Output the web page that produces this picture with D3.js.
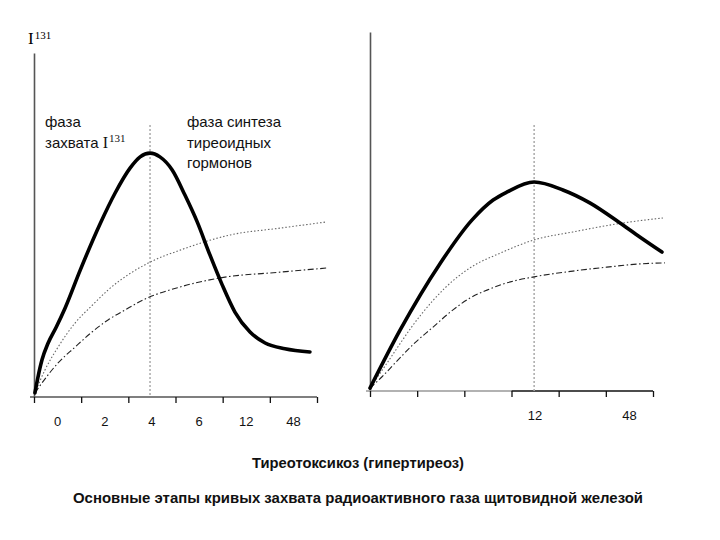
<!DOCTYPE html>
<html>
<head>
<meta charset="utf-8">
<script src="https://cdn.jsdelivr.net/npm/d3@7"></script>
<style>
  html, body { margin: 0; padding: 0; background: #fff; }
  svg { display: block; }
</style>
</head>
<body>
<svg id="chart" width="720" height="540"></svg>
<script>
// ---------- data (x in band units 0..6, y in relative uptake 0..100) ----------
const tickLabelsLeft  = ["0", "2", "4", "6", "12", "48"];
const tickLabelsRight = ["", "", "", "12", "", "48"];

const leftUptake = [[0.02,1.2],[0.08,5.5],[0.17,10.8],[0.30,15.7],[0.47,20.3],[0.66,25.9],[0.98,36.9],[1.40,50.3],[1.72,59.3],[2.04,66.6],[2.25,69.8],[2.46,70.9],[2.67,69.8],[2.93,66.0],[3.20,58.7],[3.46,50.9],[3.73,41.3],[3.99,32.6],[4.26,24.7],[4.58,18.9],[4.90,15.7],[5.32,14.0],[5.85,13.1]];
const leftDotted = [[0.02,1.2],[0.23,7.8],[0.51,14.5],[0.87,21.5],[1.23,26.6],[1.57,31.1],[2.46,39.2],[3.10,42.7],[4.16,47.1],[5.22,49.1],[6.21,50.9]];
const leftDashDot = [[0.02,1.2],[0.17,4.1],[0.51,9.9],[0.87,14.5],[1.23,18.9],[1.57,22.4],[1.93,25.3],[2.31,28.2],[3.10,32.0],[3.94,34.6],[5.22,36.3],[6.21,37.5]];

const rightUptake = [[0,0.8],[0.64,17.0],[1.48,35.4],[2.16,47.6],[2.61,53.2],[2.90,55.4],[3.48,58.2],[4.09,56.0],[4.66,52.4],[5.30,46.8],[5.72,42.9],[6.19,38.7]];
const rightDotted = [[0,0.8],[0.32,7.0],[1.06,20.9],[1.59,28.7],[2.12,34.3],[2.76,38.4],[3.48,42.1],[4.30,44.3],[5.36,46.8],[6.21,48.2]];
const rightDashDot = [[0,0.8],[0.25,3.9],[0.59,8.6],[0.95,13.4],[1.31,17.5],[1.76,22.6],[2.12,25.9],[2.48,28.1],[2.82,29.8],[3.48,31.8],[4.30,33.4],[5.02,34.5],[5.72,35.4],[6.25,35.7]];

const leftPhase = [2.46, 79.1];   // divider x, top
const rightPhase = [3.48, 74.1];

const title1 = "Тиреотоксикоз (гипертиреоз)";
const title2 = "Основные этапы кривых захвата радиоактивного газа щитовидной железой";

// ---------- drawing ----------
const svg = d3.select("#chart");

function panel(cfg) {
  const x = d3.scaleLinear().domain([0, 6]).range(cfg.xr);
  const y = d3.scaleLinear().domain([0, 100]).range(cfg.yr);
  const band = d3.scaleBand().domain(d3.range(6)).range(cfg.xr).padding(0);
  const g = svg.append("g");

  // y axis
  g.append("g")
    .attr("transform", `translate(${cfg.xr[0]},0)`)
    .call(d3.axisLeft(y).tickValues([]).tickSizeOuter(0))
    .call(s => s.select(".domain").attr("stroke", "#555").attr("stroke-width", 1.6));

  // x axis line (extends slightly left of the y axis)
  cfg.axisSegs.forEach(seg => {
    g.append("line")
      .attr("x1", seg[0] === 0 ? x(0) - 4 : x(seg[0])).attr("x2", x(seg[1]))
      .attr("y1", y(0)).attr("y2", y(0))
      .attr("stroke", seg[2]).attr("stroke-width", 1.4);
  });
  // tick marks
  g.append("g")
    .attr("transform", `translate(0,${y(0)})`)
    .call(d3.axisBottom(x).tickValues(d3.range(7)).tickSize(6).tickSizeOuter(0).tickFormat(""))
    .call(s => s.select(".domain").remove())
    .call(s => s.selectAll(".tick line").attr("stroke", "#111").attr("stroke-width", 1.3));
  // band labels
  g.append("g")
    .attr("transform", `translate(0,${y(0)})`)
    .call(d3.axisBottom(band).tickSize(0).tickPadding(cfg.labelPad).tickFormat(i => cfg.labels[i]))
    .call(s => s.select(".domain").remove())
    .call(s => s.selectAll(".tick text")
      .attr("font-family", "'Liberation Sans Narrow','Arial Narrow','Liberation Sans',Arial,sans-serif")
      .attr("font-size", 13).attr("fill", "#111"));

  // phase divider
  g.append("line")
    .attr("x1", x(cfg.phase[0])).attr("x2", x(cfg.phase[0]))
    .attr("y1", y(cfg.phase[1])).attr("y2", y(0))
    .attr("stroke", "#aaa").attr("stroke-width", 1.5).attr("stroke-dasharray", "2,2");

  const line = d3.line().x(d => x(d[0])).y(d => y(d[1])).curve(d3.curveMonotoneX);

  g.append("path").datum(cfg.dotted).attr("d", line)
    .attr("fill", "none").attr("stroke", "#666").attr("stroke-width", 1.1).attr("stroke-dasharray", "1.5,2");
  g.append("path").datum(cfg.dashdot).attr("d", line)
    .attr("fill", "none").attr("stroke", "#222").attr("stroke-width", 1.1).attr("stroke-dasharray", "6,2.5,1.5,2.5");
  g.append("path").datum(cfg.uptake).attr("d", line)
    .attr("fill", "none").attr("stroke", "#000").attr("stroke-width", 3.6)
    .attr("stroke-linecap", "round").attr("stroke-linejoin", "round");
}

panel({ xr: [34, 317], yr: [397, 53], labels: tickLabelsLeft, labelPad: 20,
        axisSegs: [[0, 6, "#555"]], phase: leftPhase,
        uptake: leftUptake, dotted: leftDotted, dashdot: leftDashDot });
panel({ xr: [370, 653], yr: [391, 32], labels: tickLabelsRight, labelPad: 20,
        axisSegs: [[0, 3, "#999"], [3, 6, "#111"]], phase: rightPhase,
        uptake: rightUptake, dotted: rightDotted, dashdot: rightDashDot });

// ---------- texts ----------
const serif = "'Liberation Serif','Times New Roman',serif";
const sans = "'Liberation Sans',Arial,sans-serif";

const iLab = svg.append("text").attr("x", 28).attr("y", 44)
  .attr("font-family", serif).attr("font-size", 17).attr("fill", "#000");
iLab.append("tspan").text("I");
iLab.append("tspan").attr("dy", -5).attr("dx", 1).attr("font-size", 11).text("131");

const ann = svg.append("g").attr("font-family", sans).attr("font-size", 15).attr("fill", "#111");
ann.append("text").attr("x", 45).attr("y", 127).text("фаза");
const a2 = ann.append("text").attr("x", 45).attr("y", 148);
a2.append("tspan").text("захвата ");
a2.append("tspan").attr("font-family", serif).attr("font-size", 16).text("I");
a2.append("tspan").attr("font-family", serif).attr("font-size", 11).attr("dy", -6).attr("dx", 1).text("131");
ann.append("text").attr("x", 187).attr("y", 127).text("фаза синтеза");
ann.append("text").attr("x", 187).attr("y", 148).text("тиреоидных");
ann.append("text").attr("x", 187).attr("y", 168).text("гормонов");

svg.append("text").attr("x", 358).attr("y", 468).attr("text-anchor", "middle")
  .attr("font-family", sans).attr("font-weight", "bold").attr("font-size", 14.5).attr("fill", "#111")
  .attr("textLength", 212).attr("lengthAdjust", "spacingAndGlyphs").text(title1);
svg.append("text").attr("x", 358).attr("y", 503).attr("text-anchor", "middle")
  .attr("font-family", sans).attr("font-weight", "bold").attr("font-size", 14.5).attr("fill", "#111")
  .attr("textLength", 570).attr("lengthAdjust", "spacingAndGlyphs").text(title2);
</script>
</body>
</html>
